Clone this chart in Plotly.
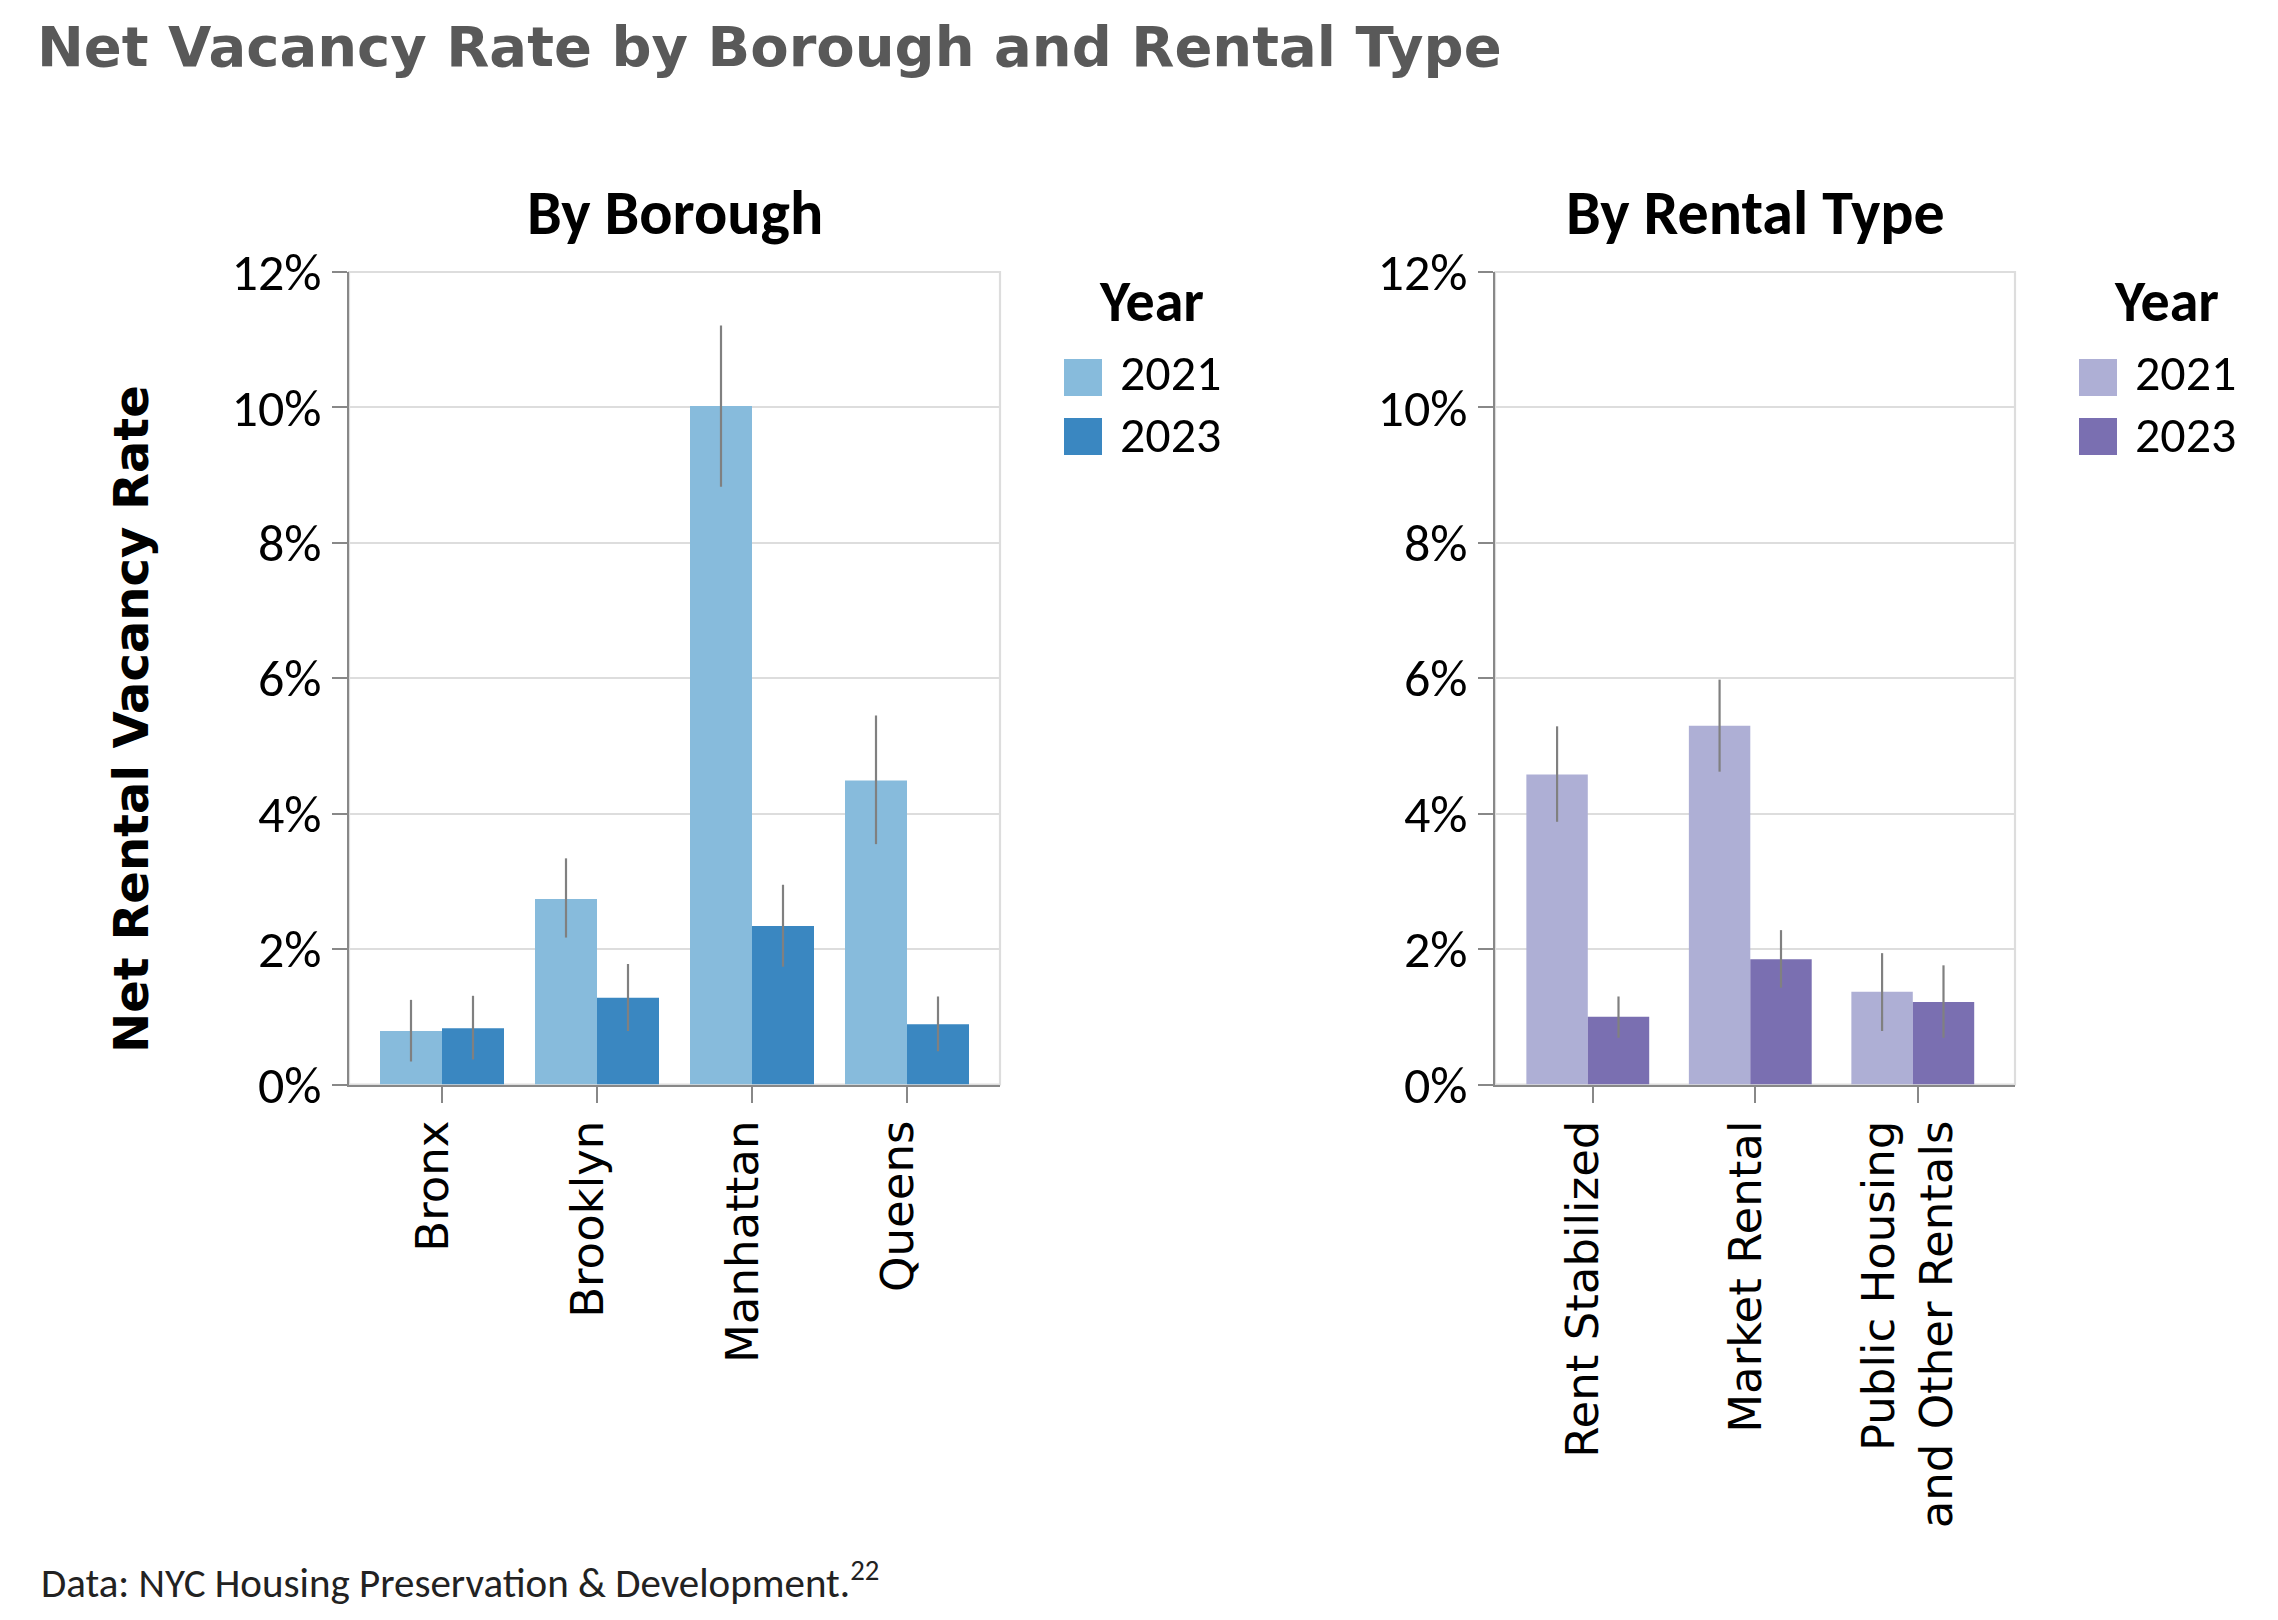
import plotly.graph_objects as go

W, H = 2278, 1620

# ---------------- data ----------------
boroughs = ["Bronx", "Brooklyn", "Manhattan", "Queens"]
borough_2021 = [0.79, 2.74, 10.02, 4.49]
borough_2021_low = [0.34, 2.17, 8.83, 3.55]
borough_2021_high = [1.25, 3.34, 11.21, 5.45]
borough_2023 = [0.83, 1.28, 2.34, 0.89]
borough_2023_low = [0.37, 0.79, 1.74, 0.49]
borough_2023_high = [1.31, 1.78, 2.95, 1.30]

rental_types = ["Rent Stabilized", "Market Rental", "Public Housing and Other Rentals"]
rental_tick_labels = ["Rent Stabilized", "Market Rental", "Public Housing<br>and Other Rentals"]
rental_2021 = [4.58, 5.30, 1.37]
rental_2021_low = [3.88, 4.62, 0.79]
rental_2021_high = [5.29, 5.98, 1.94]
rental_2023 = [1.00, 1.85, 1.22]
rental_2023_low = [0.69, 1.43, 0.69]
rental_2023_high = [1.30, 2.28, 1.76]

years = ["2021", "2023"]
y_ticks = [0, 2, 4, 6, 8, 10, 12]
y_tick_labels = [f"{v}%" for v in y_ticks]

# ---------------- style ----------------
BLUE_21, BLUE_23 = "#87bbdc", "#3a87c1"
PURP_21, PURP_23 = "#aeafd5", "#7a6fb1"
ERR = "#808080"
AXIS = "#888888"
GRID = "#dddddd"
NARROW = "Carlito, 'Liberation Sans Narrow', 'Arial Narrow', 'Open Sans', sans-serif"
WIDE = "'DejaVu Sans', Verdana, sans-serif"
TITLE_FONT = "'Century Gothic', 'URW Gothic', 'DejaVu Sans', sans-serif"

# plot areas in pixels
L_X0, L_X1 = 341, 992
R_X0, R_X1 = 1487, 2007
P_TOP, P_BOT = 264, 1076.5


def px(x):
    return x / W


def py(y):
    return 1 - y / H


fig = go.Figure()


def add_pair(cats, v21, lo21, hi21, v23, lo23, hi23, c21, c23, xa, ya, w, shift):
    for vals, lo, hi, col, off, name in [
        (v21, lo21, hi21, c21, -w + shift, years[0]),
        (v23, lo23, hi23, c23, shift, years[1]),
    ]:
        fig.add_trace(go.Bar(
            x=cats, y=vals, name=name, width=w, offset=off,
            marker=dict(color=col, line=dict(width=0)),
            error_y=dict(type="data", symmetric=False,
                         array=[h - v for h, v in zip(hi, vals)],
                         arrayminus=[v - l for v, l in zip(vals, lo)],
                         color=ERR, thickness=2.2, width=0),
            xaxis=xa, yaxis=ya, showlegend=False,
        ))


add_pair(boroughs, borough_2021, borough_2021_low, borough_2021_high,
         borough_2023, borough_2023_low, borough_2023_high,
         BLUE_21, BLUE_23, "x", "y", 0.4, 0.0)
add_pair(rental_types, rental_2021, rental_2021_low, rental_2021_high,
         rental_2023, rental_2023_low, rental_2023_high,
         PURP_21, PURP_23, "x2", "y2", 0.378, -0.029)

xcommon = dict(type="category", tickangle=-90, ticks="outside", ticklen=16, tickwidth=2,
               tickcolor=AXIS, showline=True, linecolor=AXIS, linewidth=2.2,
               showgrid=False, zeroline=False, automargin=False, ticklabelshift=-9,
               tickfont=dict(family=WIDE, size=45, color="black"))
ycommon = dict(range=[0, 12], tickvals=y_ticks, ticktext=y_tick_labels, ticks="outside",
               ticklen=15, tickwidth=2, tickcolor=AXIS, showline=True, linecolor=AXIS,
               linewidth=2.2, showgrid=True, gridcolor=GRID, gridwidth=2.2, zeroline=False,
               automargin=False, tickfont=dict(family=NARROW, size=52, color="black"))

fig.update_layout(
    width=W, height=H, margin=dict(l=0, r=0, t=0, b=0),
    paper_bgcolor="white", plot_bgcolor="white",
    barmode="overlay", showlegend=False,
    xaxis=dict(xcommon, domain=[px(L_X0), px(L_X1)], anchor="y", range=[-0.6, 3.6]),
    yaxis=dict(ycommon, domain=[py(P_BOT), py(P_TOP)], anchor="x"),
    xaxis2=dict(xcommon, domain=[px(R_X0), px(R_X1)], anchor="y2", range=[-0.6, 2.6],
                tickvals=rental_types, ticktext=rental_tick_labels),
    yaxis2=dict(ycommon, domain=[py(P_BOT), py(P_TOP)], anchor="x2"),
)

shapes = []
for xr, yr in [("x domain", "y domain"), ("x2 domain", "y2 domain")]:
    shapes.append(dict(type="rect", xref=xr, yref=yr, x0=0, x1=1, y0=0, y1=1,
                       line=dict(color=GRID, width=2.2), layer="below"))

annotations = []
# main title
annotations.append(dict(text="<b>Net Vacancy Rate by Borough and Rental Type</b>",
                        x=px(27), y=py(38), xref="paper", yref="paper",
                        xanchor="left", yanchor="middle", showarrow=False,
                        font=dict(family=TITLE_FONT, size=56, color="#595959")))
# subplot titles
annotations.append(dict(text="<b>By Borough</b>", x=px((L_X0 + L_X1) / 2), y=py(205),
                        xref="paper", yref="paper", xanchor="center", yanchor="middle",
                        showarrow=False, font=dict(family=NARROW, size=62, color="black")))
annotations.append(dict(text="<b>By Rental Type</b>", x=px((R_X0 + R_X1) / 2), y=py(205),
                        xref="paper", yref="paper", xanchor="center", yanchor="middle",
                        showarrow=False, font=dict(family=NARROW, size=62, color="black")))
# y axis title
annotations.append(dict(text="<b>Net Rental Vacancy Rate</b>", x=px(123), y=py(711),
                        xref="paper", yref="paper", xanchor="center", yanchor="middle",
                        textangle=-90, showarrow=False,
                        font=dict(family=WIDE, size=48, color="black")))
# footer
annotations.append(dict(text="Data: NYC Housing Preservation & Development.<sup>22</sup>",
                        x=px(31), y=py(1572), xref="paper", yref="paper",
                        xanchor="left", yanchor="middle", showarrow=False,
                        font=dict(family=NARROW, size=41, color="#222222")))

# custom legends (big swatches)
label_y = [364, 426]
for right_edge, cols in [(L_X1, (BLUE_21, BLUE_23)), (R_X1, (PURP_21, PURP_23))]:
    annotations.append(dict(text="<b>Year</b>", x=px(right_edge + 97), y=py(293),
                            xref="paper", yref="paper", xanchor="left", yanchor="middle",
                            showarrow=False, font=dict(family=NARROW, size=58, color="black")))
    for i, (yr, col) in enumerate(zip(years, cols)):
        y0 = 351 + i * 59
        shapes.append(dict(type="rect", xref="paper", yref="paper",
                           x0=px(right_edge + 64), x1=px(right_edge + 102),
                           y0=py(y0 + 37), y1=py(y0), fillcolor=col,
                           line=dict(width=0)))
        annotations.append(dict(text=yr, x=px(right_edge + 118), y=py(label_y[i]),
                                xref="paper", yref="paper", xanchor="left", yanchor="middle",
                                showarrow=False, font=dict(family=NARROW, size=50, color="black")))

fig.update_layout(shapes=shapes, annotations=annotations)
fig.write_html("out.html")
